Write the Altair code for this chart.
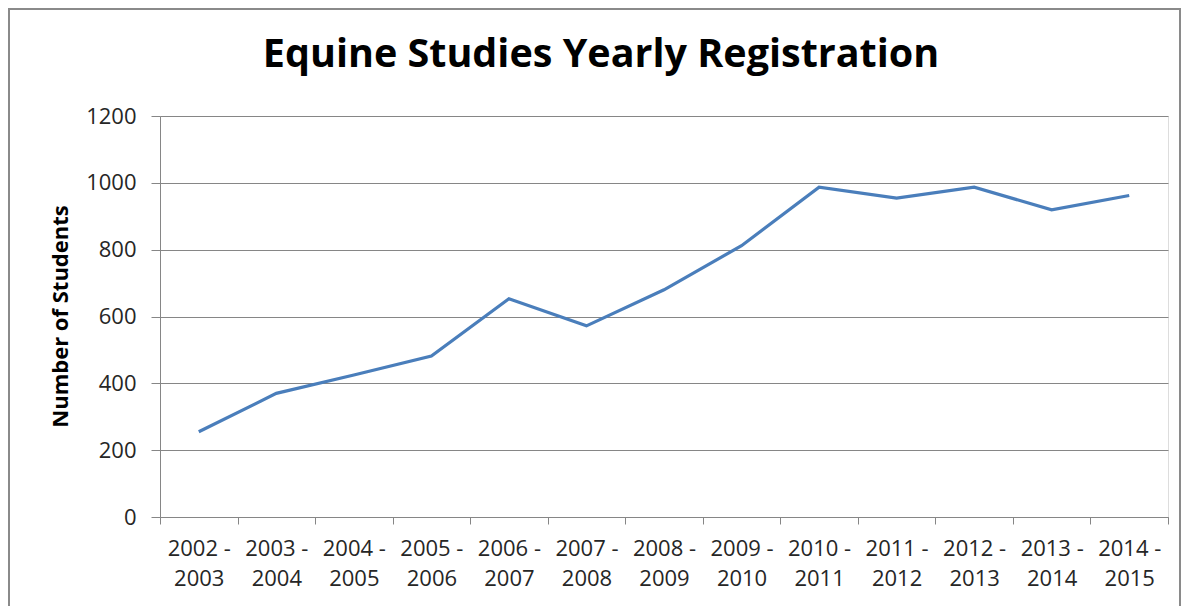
import altair as alt
import pandas as pd

years = ["2002 - 2003", "2003 - 2004", "2004 - 2005", "2005 - 2006", "2006 - 2007",
         "2007 - 2008", "2008 - 2009", "2009 - 2010", "2010 - 2011", "2011 - 2012",
         "2012 - 2013", "2013 - 2014", "2014 - 2015"]
students = [255, 370, 425, 482, 653, 572, 680, 812, 987, 954, 987, 919, 962]
y_ticks = [0, 200, 400, 600, 800, 1000, 1200]

df = pd.DataFrame({"year": years, "students": students})

FONT = "Open Sans"

line = alt.Chart(df).mark_line(color="#4A7EBB", strokeWidth=3.2).encode(
    x=alt.X("year:O", sort=years, bandPosition=0.5,
            scale=alt.Scale(type="band", paddingInner=0, paddingOuter=0),
            axis=alt.Axis(title=None, labelAngle=0, tickBand="extent", tickSize=7,
                          labelFontSize=22, labelFont=FONT, labelColor="#262626",
                          labelLineHeight=30, labelPadding=14, labelBaseline="top",
                          labelExpr="[substring(datum.label,0,6), substring(datum.label,7)]",
                          domainColor="#868686", tickColor="#868686", grid=False)),
    y=alt.Y("students:Q", scale=alt.Scale(domain=[0, 1200], nice=False),
            axis=alt.Axis(title="Number of Students", values=y_ticks, tickSize=9,
                          format="d",
                          labelFontSize=22, labelFont=FONT, labelColor="#262626",
                          labelPadding=15, titleFont=FONT, titleFontSize=22,
                          titleFontWeight="bold", titleColor="#000000",
                          titleBaseline="alphabetic", titleX=-93, titleY=200,
                          titleAngle=-90, titleAlign="center",
                          gridColor="#868686", domainColor="#868686", tickColor="#868686")),
)

frame = alt.Chart(df).mark_rect(fill=None, stroke="#8a8a8a", strokeWidth=2).encode(
    x=alt.value(-151), x2=alt.value(1020), y=alt.value(-107), y2=alt.value(520)
)

chart = alt.layer(frame, line).properties(
    width=1008, height=401,
    title=alt.TitleParams("Equine Studies Yearly Registration", font=FONT,
                          fontSize=39.5, fontWeight="bold", color="#000000",
                          anchor="middle", dx=-63, offset=0, dy=67),
    autosize=alt.AutoSizeParams(type="none"),
    padding={"left": 152, "top": 108, "right": 14, "bottom": 89},
).configure_view(stroke=None).configure(background="white")

chart.save("out.html", embed_options={"renderer": "svg", "actions": False})
